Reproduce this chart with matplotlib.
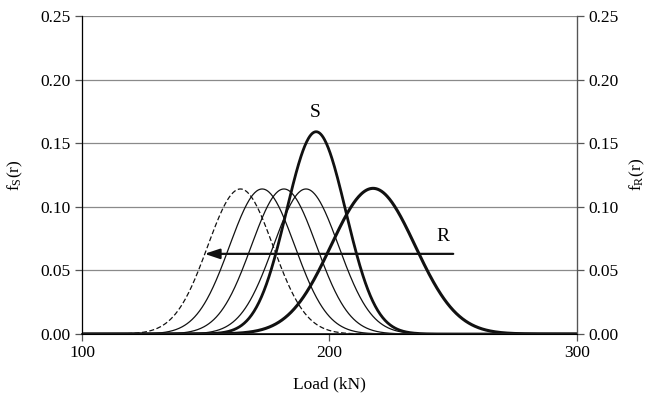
import numpy as np
import matplotlib
matplotlib.use("Agg")
import matplotlib.pyplot as plt

plt.rcParams['font.family'] = ['Liberation Serif', 'DejaVu Serif']
plt.rcParams['mathtext.default'] = 'regular'

# curve parameters (mean kN, sd kN, peak height)
shifted_means = [164.0, 172.8, 181.6, 190.5]   # first one dashed
shifted_sd = 13.2
shifted_peak = 0.114
s_mean, s_sd, s_peak = 194.6, 12.0, 0.159
r_mean, r_sd, r_peak = 217.6, 17.0, 0.1145

arrow_y = 0.063
arrow_from, arrow_to = 250.0, 149.5

x = np.linspace(100, 300, 801)


def bell(mean, sd, peak):
    return peak * np.exp(-0.5 * ((x - mean) / sd) ** 2)


fig = plt.figure(figsize=(6.49, 3.99), dpi=100)
ax = fig.add_axes([0.1264, 0.1629, 0.7626, 0.7971])

for yv in [0.05, 0.10, 0.15, 0.20, 0.25]:
    ax.axhline(yv, color='#8a8a8a', lw=0.9, zorder=0)

for i, m in enumerate(shifted_means):
    ls = (0, (4, 2)) if i == 0 else '-'
    ax.plot(x, bell(m, shifted_sd, shifted_peak), color='#111111', lw=0.9, ls=ls)

ax.plot(x, bell(s_mean, s_sd, s_peak), color='#111111', lw=2.0)
ax.plot(x, bell(r_mean, r_sd, r_peak), color='#111111', lw=2.2)

ax.annotate('', xy=(arrow_to, arrow_y), xytext=(arrow_from, arrow_y),
            arrowprops=dict(arrowstyle='-|>,head_length=0.9,head_width=0.3',
                            color='#111111', lw=1.6, shrinkA=0, shrinkB=0))

ax.text(194.1, 0.1745, 'S', ha='center', va='center', fontsize=14)
ax.text(245.9, 0.0763, 'R', ha='center', va='center', fontsize=14)

fs = 12.5
ax.set_xlim(100, 300)
ax.set_ylim(0, 0.25)
ax.set_xticks([100, 200, 300])
ax.set_yticks([0.0, 0.05, 0.10, 0.15, 0.20, 0.25])
ax.set_yticklabels(['0.00', '0.05', '0.10', '0.15', '0.20', '0.25'])
ax.tick_params(axis='both', labelsize=fs, direction='out', length=5,
               color='#555555', width=0.9)
ax.tick_params(axis='x', pad=3)
ax.set_xlabel('Load (kN)', fontsize=fs, labelpad=11)
ax.set_ylabel(r'f$_S$(r)', fontsize=fs, labelpad=11)

ax.spines['top'].set_visible(False)
for side in ['left', 'right']:
    ax.spines[side].set_color('#555555')
    ax.spines[side].set_linewidth(0.9)
ax.spines['bottom'].set_color('#222222')
ax.spines['bottom'].set_linewidth(1.3)

ax2 = ax.twinx()
ax2.set_ylim(0, 0.25)
ax2.set_yticks([0.0, 0.05, 0.10, 0.15, 0.20, 0.25])
ax2.set_yticklabels(['0.00', '0.05', '0.10', '0.15', '0.20', '0.25'])
ax2.tick_params(axis='y', labelsize=fs, direction='out', length=5,
                color='#555555', width=0.9)
ax2.set_ylabel(r'f$_R$(r)', fontsize=fs, labelpad=6)
ax2.spines['top'].set_visible(False)
ax2.spines['right'].set_color('#555555')

fig.savefig('out.png', dpi=100)
